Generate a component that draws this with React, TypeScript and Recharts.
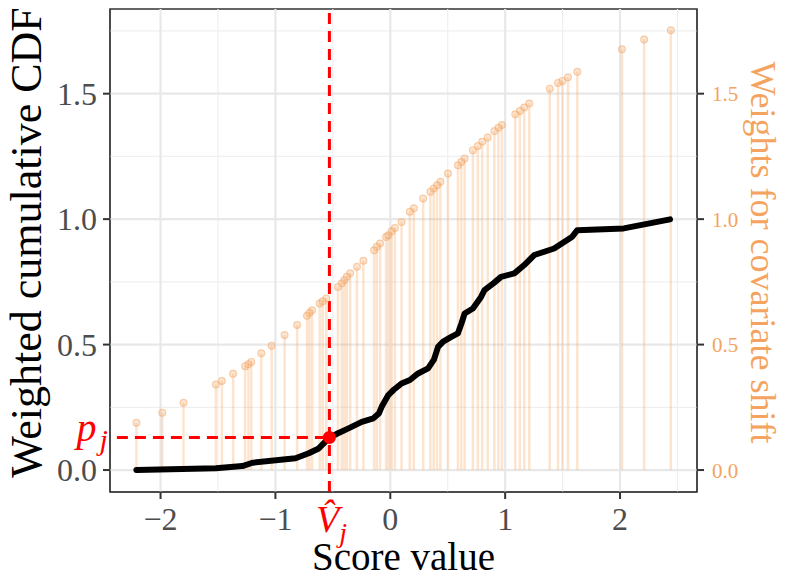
import React from 'react';
import {
    ComposedChart, Line, Scatter, XAxis, YAxis, ReferenceLine, ReferenceArea, Label,
} from 'recharts';

// score values and their covariate-shift weights
const scoreX = [
    -2.21, -1.985, -1.8, -1.518, -1.466, -1.368, -1.264, -1.235, -1.21, -1.123,
    -1.033, -0.92, -0.811, -0.725, -0.704, -0.681, -0.615, -0.589, -0.557, -0.456,
    -0.422, -0.4, -0.378, -0.349, -0.29, -0.234, -0.141, -0.118, -0.089, -0.037,
    -0.017, 0.012, 0.04, 0.098, 0.17, 0.205, 0.286, 0.349, 0.378, 0.407,
    0.436, 0.502, 0.589, 0.618, 0.647, 0.719, 0.762, 0.8, 0.848, 0.906,
    0.941, 0.972, 1.088, 1.128, 1.166, 1.21, 1.388, 1.46, 1.498, 1.547,
    1.628, 2.017, 2.21, 2.442,
];
const weights = [
    0.188, 0.228, 0.268, 0.341, 0.355, 0.384, 0.414, 0.422, 0.431, 0.465,
    0.495, 0.538, 0.578, 0.615, 0.627, 0.637, 0.664, 0.673, 0.684, 0.73,
    0.744, 0.757, 0.77, 0.784, 0.81, 0.834, 0.876, 0.89, 0.903, 0.929,
    0.936, 0.952, 0.965, 0.989, 1.029, 1.043, 1.082, 1.109, 1.122, 1.135,
    1.149, 1.182, 1.215, 1.228, 1.242, 1.275, 1.291, 1.308, 1.325, 1.351,
    1.364, 1.375, 1.418, 1.431, 1.445, 1.461, 1.52, 1.543, 1.551, 1.565,
    1.587, 1.677, 1.716, 1.753,
];

// weighted cumulative CDF curve
const cdfX = [
    -2.21, -1.518, -1.287, -1.2, -0.825, -0.71, -0.623, -0.537, -0.45, -0.364,
    -0.248, -0.147, -0.1, -0.075, -0.017, 0.03, 0.098, 0.171, 0.242, 0.329,
    0.38, 0.416, 0.46, 0.531, 0.589, 0.62, 0.647, 0.719, 0.79, 0.82,
    0.9, 0.964, 1.08, 1.166, 1.253, 1.426, 1.584, 1.628, 2.032, 2.435,
];
const cdfY = [
    0.0, 0.007, 0.016, 0.029, 0.047, 0.067, 0.086, 0.126, 0.148, 0.166,
    0.192, 0.206, 0.225, 0.252, 0.299, 0.32, 0.345, 0.359, 0.385, 0.405,
    0.44, 0.491, 0.512, 0.531, 0.545, 0.585, 0.624, 0.644, 0.69, 0.717,
    0.745, 0.77, 0.784, 0.817, 0.857, 0.883, 0.93, 0.956, 0.963, 0.999,
];

const xTicks = [-2, -1, 0, 1, 2];
const xMinor = [-1.5, -0.5, 0.5, 1.5, 2.5];
const yTicks = [0, 0.5, 1, 1.5];
const yMinor = [0.25, 0.75, 1.25, 1.75];

const vHat = -0.53;
const pJ = 0.13;

const X_DOMAIN: [number, number] = [-2.44, 2.67];
const Y_DOMAIN: [number, number] = [-0.0875, 1.8375];

const ORANGE = '#F4A460';
const FONT = '"Liberation Serif", "Times New Roman", serif';

const weightRows = scoreX.map((x, i) => ({ x, y: weights[i] }));
const cdfRows = cdfX.map((x, i) => ({ x, y: cdfY[i] }));
const pointRows = [{ x: vHat, y: pJ }];

const fmtX = (v: number) => (v < 0 ? `\u2212${Math.abs(v)}` : `${v}`);
const fmtY = (v: number) => v.toFixed(1);

export default function App() {
    return (
        <div style={{ position: 'absolute', left: 0, top: 0, background: '#fff', fontFamily: FONT }}>
            <ComposedChart width={789} height={587} margin={{ top: 9, right: 0, bottom: 0, left: 0 }}
                style={{ fontFamily: FONT }}>
                <XAxis type="number" dataKey="x" domain={X_DOMAIN} allowDataOverflow ticks={xTicks}
                    tickFormatter={fmtX} height={95} tickSize={7} tickMargin={8}
                    tick={{ fontSize: 32, fill: '#4d4d4d', fontFamily: FONT }}
                    axisLine={{ stroke: '#333' }} tickLine={{ stroke: '#333', strokeWidth: 2 }}>
                    <Label content={({ viewBox }: any) => (
                        <text x={viewBox.x + viewBox.width / 2} y={viewBox.y + 78} textAnchor="middle"
                            fontSize={39} fill="#000" fontFamily={FONT}>Score value</text>
                    )} />
                </XAxis>
                <YAxis yAxisId="l" type="number" domain={Y_DOMAIN} allowDataOverflow ticks={yTicks}
                    tickFormatter={fmtY} width={110} tickSize={7} tickMargin={6}
                    tick={{ fontSize: 32, fill: '#4d4d4d', fontFamily: FONT }}
                    axisLine={{ stroke: '#333' }} tickLine={{ stroke: '#333', strokeWidth: 2 }}>
                    <Label content={({ viewBox }: any) => {
                        const cx = 41;
                        const cy = viewBox.y + viewBox.height / 2 - 8;
                        return (
                            <text x={cx} y={cy} transform={`rotate(-90 ${cx} ${cy})`} textAnchor="middle"
                                fontSize={44} fill="#000" fontFamily={FONT}>Weighted cumulative CDF</text>
                        );
                    }} />
                </YAxis>
                <YAxis yAxisId="r" orientation="right" type="number" domain={Y_DOMAIN} allowDataOverflow
                    ticks={yTicks} tickFormatter={fmtY} width={92} tickSize={7} tickMargin={8}
                    tick={{ fontSize: 21, fill: ORANGE, fontFamily: FONT }}
                    axisLine={{ stroke: '#333' }} tickLine={{ stroke: '#333', strokeWidth: 2 }}>
                    <Label content={({ viewBox }: any) => {
                        const cx = viewBox.x + 54;
                        const cy = viewBox.y + viewBox.height / 2 + 2;
                        return (
                            <text x={cx} y={cy} transform={`rotate(90 ${cx} ${cy})`} textAnchor="middle"
                                fontSize={36} fill={ORANGE} fontFamily={FONT}>Weights for covariate shift</text>
                        );
                    }} />
                </YAxis>

                {/* grid */}
                {yMinor.map((v) => (
                    <ReferenceLine key={`ym${v}`} yAxisId="l" y={v} stroke="#efefef" strokeWidth={1.2} />
                ))}
                {xMinor.map((v) => (
                    <ReferenceLine key={`xm${v}`} yAxisId="l" x={v} stroke="#efefef" strokeWidth={1.2} />
                ))}
                {yTicks.map((v) => (
                    <ReferenceLine key={`yM${v}`} yAxisId="l" y={v} stroke="#e8e8e8" strokeWidth={2.2} />
                ))}
                {xTicks.map((v) => (
                    <ReferenceLine key={`xM${v}`} yAxisId="l" x={v} stroke="#e8e8e8" strokeWidth={2.2} />
                ))}

                {/* lollipops */}
                {weightRows.map((d, i) => (
                    <ReferenceLine key={`w${i}`} yAxisId="l"
                        segment={[{ x: d.x, y: 0 }, { x: d.x, y: d.y }]}
                        stroke={ORANGE} strokeOpacity={0.3} strokeWidth={2.5} />
                ))}
                <Scatter yAxisId="l" data={weightRows} dataKey="y" isAnimationActive={false}
                    shape={(p: any) => (
                        <circle cx={p.cx} cy={p.cy} r={3.4} fill={ORANGE} fillOpacity={0.28}
                            stroke={ORANGE} strokeOpacity={0.5} strokeWidth={1.2} />
                    )} />

                <Line yAxisId="l" data={cdfRows} dataKey="y" type="linear" stroke="#000" strokeWidth={6}
                    strokeLinejoin="round" strokeLinecap="round" dot={false} isAnimationActive={false} />

                {/* quantile markers */}
                <ReferenceLine yAxisId="l" x={vHat} stroke="#ff0000" strokeWidth={3} strokeDasharray="11 7"
                    label={({ viewBox }: any) => (
                        <text x={viewBox.x + 2} y={viewBox.y + viewBox.height + 40} textAnchor="middle"
                            fontSize={38} fill="#ff0000" fontStyle="italic" fontFamily={FONT}>
                            {'V\u0302'}<tspan fontSize={28} dy={10}>j</tspan>
                        </text>
                    )} />
                <ReferenceLine yAxisId="l" segment={[{ x: -2.38, y: pJ }, { x: vHat, y: pJ }]}
                    stroke="#ff0000" strokeWidth={3} strokeDasharray="11 7"
                    label={({ viewBox }: any) => (
                        <text x={viewBox.x - 9} y={viewBox.y + 4} textAnchor="end"
                            fontSize={40} fill="#ff0000" fontStyle="italic" fontFamily={FONT}>
                            p<tspan fontSize={30} dx={3} dy={9}>j</tspan>
                        </text>
                    )} />
                <Scatter yAxisId="l" data={pointRows} dataKey="y" isAnimationActive={false}
                    shape={(p: any) => <circle cx={p.cx} cy={p.cy} r={6.5} fill="#ff0000" />} />

                <ReferenceArea yAxisId="l" x1={X_DOMAIN[0]} x2={X_DOMAIN[1]} y1={Y_DOMAIN[0]} y2={Y_DOMAIN[1]}
                    fill="none" stroke="#333" strokeWidth={1.5} />
            </ComposedChart>
        </div>
    );
}
